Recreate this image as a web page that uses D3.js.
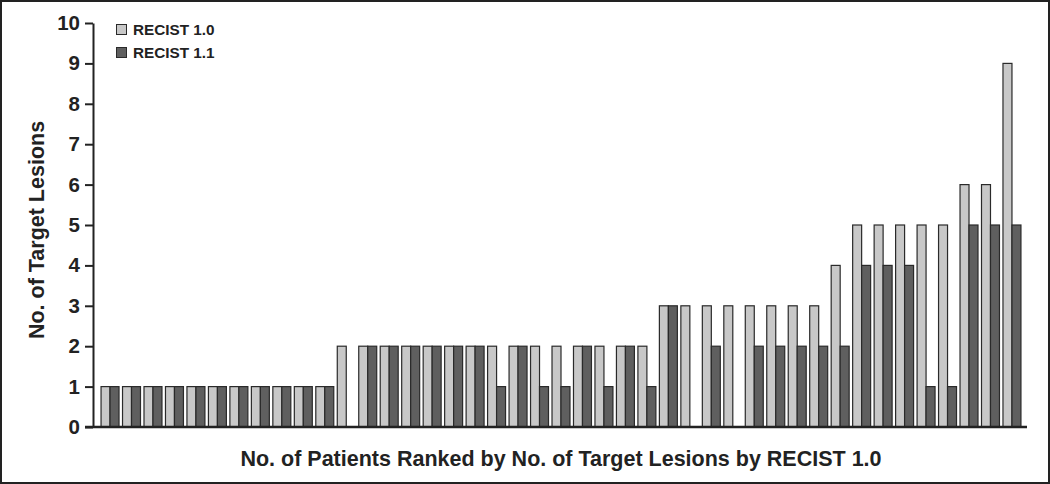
<!DOCTYPE html>
<html><head><meta charset="utf-8">
<script src="https://cdn.jsdelivr.net/npm/d3@7"></script>
<style>body{margin:0;background:#fff}svg{display:block}</style>
</head><body>
<svg id="c" width="1050" height="484"></svg>
<script>
const patients = d3.range(1, 44).map(String);
const recist10 = [1,1,1,1,1,1,1,1,1,1,1,2,2,2,2,2,2,2,2,2,2,2,2,2,2,2,3,3,3,3,3,3,3,3,4,5,5,5,5,5,6,6,9];
const recist11 = [1,1,1,1,1,1,1,1,1,1,1,0,2,2,2,2,2,2,1,2,1,1,2,1,2,1,3,0,2,0,2,2,2,2,2,4,4,4,1,1,5,5,5];
const seriesNames = ["RECIST 1.0", "RECIST 1.1"];
const yTicks = [0,1,2,3,4,5,6,7,8,9,10];

const colors = ["#c8c8c8", "#5f5f5f"];
const svg = d3.select("#c");
const font = "'Liberation Sans', Arial, Helvetica, sans-serif";

svg.append("rect").attr("x",1).attr("y",1).attr("width",1048).attr("height",482)
  .attr("fill","none").attr("stroke","#222").attr("stroke-width",2);

const x = d3.scaleBand().domain(patients).range([99.3, 1022.7]).paddingInner(0.163).paddingOuter(0.0815);
const xs = d3.scaleBand().domain([0,1]).range([0, x.bandwidth()]);
const y = d3.scaleLinear().domain([0,10]).range([427, 23]);

const data = patients.map((p,i)=>({p, v:[recist10[i], recist11[i]]}));
const g = svg.append("g");
data.forEach(d=>{
  d.v.forEach((v,k)=>{
    if (v <= 0) return;
    g.append("rect")
      .attr("x", x(d.p) + xs(k))
      .attr("y", y(v))
      .attr("width", xs.bandwidth())
      .attr("height", y(0) - y(v))
      .attr("fill", colors[k]).attr("stroke", "#2a2a2a").attr("stroke-width", 1.2);
  });
});

// y axis
const ya = svg.append("g").attr("transform","translate(93,0)")
  .call(d3.axisLeft(y).tickValues(yTicks).tickFormat(d3.format("d")).tickSize(8).tickSizeOuter(0));
ya.select(".domain").attr("stroke","#222").attr("stroke-width",2);
ya.selectAll(".tick line").attr("stroke","#222").attr("stroke-width",2);
ya.selectAll(".tick text").attr("font-family",font).attr("font-weight","bold")
  .attr("font-size",20.5).attr("fill","#222").attr("x",-13);

// x axis baseline
svg.append("line").attr("x1",85).attr("x2",1027).attr("y1",y(0)).attr("y2",y(0))
  .attr("stroke","#222").attr("stroke-width",2.5);

// axis titles
svg.append("text").attr("transform","translate(43.5,230) rotate(-90)")
  .attr("text-anchor","middle").attr("font-family",font).attr("font-weight","bold")
  .attr("font-size",21.5).attr("fill","#222").text("No. of Target Lesions");
svg.append("text").attr("x",561).attr("y",466)
  .attr("text-anchor","middle").attr("font-family",font).attr("font-weight","bold")
  .attr("font-size",21.5).attr("fill","#222").text("No. of Patients Ranked by No. of Target Lesions by RECIST 1.0");

// legend
const lg = svg.append("g");
seriesNames.forEach((n,k)=>{
  lg.append("rect").attr("x",116.5).attr("y",24.5 + k*23).attr("width",10).attr("height",10)
    .attr("fill",colors[k]).attr("stroke","#2a2a2a").attr("stroke-width",1);
  lg.append("text").attr("x",133).attr("y",35 + k*23)
    .attr("font-family",font).attr("font-weight","bold").attr("font-size",15.3)
    .attr("fill","#222").text(n);
});
</script>
</body></html>
